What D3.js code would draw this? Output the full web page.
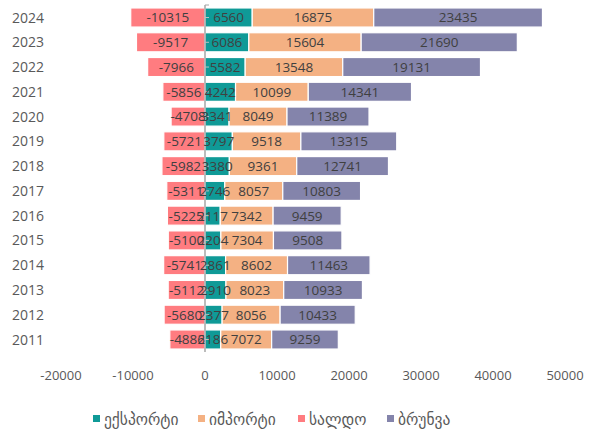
<!DOCTYPE html>
<html>
<head>
<meta charset="utf-8">
<script src="https://cdn.jsdelivr.net/npm/d3@7"></script>
<style>
  body { margin: 0; background: #fff; }
  svg text { font-family: "Open Sans", "DejaVu Sans", sans-serif; }
</style>
</head>
<body>
<div id="chart"></div>
<script>
// data
var years = [2011, 2012, 2013, 2014, 2015, 2016, 2017, 2018, 2019, 2020, 2021, 2022, 2023, 2024];
var exportVals = [2186, 2377, 2910, 2861, 2204, 2117, 2746, 3380, 3797, 3341, 4242, 5582, 6086, 6560];
var importVals = [7072, 8056, 8023, 8602, 7304, 7342, 8057, 9361, 9518, 8049, 10099, 13548, 15604, 16875];
var saldoVals = [-4886, -5680, -5112, -5741, -5100, -5225, -5311, -5982, -5721, -4708, -5856, -7966, -9517, -10315];
var turnoverVals = [9259, 10433, 10933, 11463, 9508, 9459, 10803, 12741, 13315, 11389, 14341, 19131, 21690, 23435];
var xTicks = [-20000, -10000, 0, 10000, 20000, 30000, 40000, 50000];
var seriesNames = ['ექსპორტი', 'იმპორტი', 'სალდო', 'ბრუნვა'];
var colors = ['#0f9a97', '#f4b183', '#ff7c80', '#8484ab'];

var width = 597, height = 432;
var svg = d3.select('#chart').append('svg')
  .attr('width', width)
  .attr('height', height);

var x = d3.scaleLinear().domain([-20000, 50000]).range([61, 565]);
// newest year on top
var y = d3.scaleBand().domain(years.slice().reverse()).range([5, 352]).paddingInner(0.23).paddingOuter(0.12);

// build segments: saldo goes left from 0, the rest stack to the right
var segs = [];
years.forEach(function(yr, i) {
  var e = exportVals[i], im = importVals[i], t = turnoverVals[i];
  segs.push({ year: yr, s: 2, x0: saldoVals[i], x1: 0, v: saldoVals[i] });
  segs.push({ year: yr, s: 0, x0: 0, x1: e, v: e });
  segs.push({ year: yr, s: 1, x0: e, x1: e + im, v: im });
  segs.push({ year: yr, s: 3, x0: e + im, x1: e + im + t, v: t });
});

svg.selectAll('rect.seg')
  .data(segs)
  .enter()
  .append('rect')
  .attr('class', 'seg')
  .attr('x', function(d) { return x(d.x0); })
  .attr('width', function(d) { return x(d.x1) - x(d.x0); })
  .attr('y', function(d) { return y(d.year); })
  .attr('height', y.bandwidth())
  .attr('fill', function(d) { return colors[d.s]; })
  .attr('stroke', '#fff')
  .attr('stroke-width', 1.2);

// vertical axis line at 0
svg.append('line')
  .attr('x1', x(0)).attr('x2', x(0))
  .attr('y1', 5).attr('y2', 352)
  .attr('stroke', '#a6a6a6').attr('stroke-width', 1.5);
svg.append('line')
  .attr('x1', x(0)).attr('x2', x(0) + 4)
  .attr('y1', 5).attr('y2', 5)
  .attr('stroke', '#a6a6a6').attr('stroke-width', 1);
svg.selectAll('line.ytick')
  .data(years)
  .enter()
  .append('line')
  .attr('class', 'ytick')
  .attr('x1', x(0)).attr('x2', x(0) + 4)
  .attr('y1', function(d) { return y(d) + y.bandwidth() / 2; })
  .attr('y2', function(d) { return y(d) + y.bandwidth() / 2; })
  .attr('stroke', '#bfbfbf').attr('stroke-width', 1);

// data labels
svg.selectAll('text.lbl')
  .data(segs)
  .enter()
  .append('text')
  .attr('class', 'lbl')
  .attr('x', function(d) { return (x(d.x0) + x(d.x1)) / 2; })
  .attr('y', function(d) { return y(d.year) + y.bandwidth() / 2; })
  .attr('dy', '0.36em')
  .attr('text-anchor', 'middle')
  .attr('fill', '#404040')
  .style('font-size', '13.5px')
  .text(function(d) { return d.v; });

// year labels
svg.selectAll('text.year')
  .data(years)
  .enter()
  .append('text')
  .attr('class', 'year')
  .attr('x', 12)
  .attr('y', function(d) { return y(d) + y.bandwidth() / 2; })
  .attr('dy', '0.36em')
  .attr('fill', '#595959')
  .style('font-size', '14px')
  .text(function(d) { return d; });

// x tick labels
svg.selectAll('text.xt')
  .data(xTicks)
  .enter()
  .append('text')
  .attr('class', 'xt')
  .attr('x', function(d) { return x(d); })
  .attr('y', 375)
  .attr('dy', '0.36em')
  .attr('text-anchor', 'middle')
  .attr('fill', '#595959')
  .style('font-size', '13px')
  .text(function(d) { return d; });

// legend
var legendX = [93, 198, 298, 387];
var legend = svg.selectAll('.legend')
  .data(seriesNames)
  .enter()
  .append('g')
  .attr('class', 'legend')
  .attr('transform', function(d, i) { return 'translate(' + legendX[i] + ',419)'; });
legend.append('rect')
  .attr('x', 0).attr('y', -4)
  .attr('width', 7).attr('height', 7)
  .attr('fill', function(d, i) { return colors[i]; });
legend.append('text')
  .attr('x', 11)
  .attr('y', 0)
  .attr('dy', '0.36em')
  .attr('fill', '#595959')
  .style('font-size', '15.5px')
  .style('font-family', '"DejaVu Sans", sans-serif')
  .text(function(d) { return d; });
</script>
</body>
</html>
